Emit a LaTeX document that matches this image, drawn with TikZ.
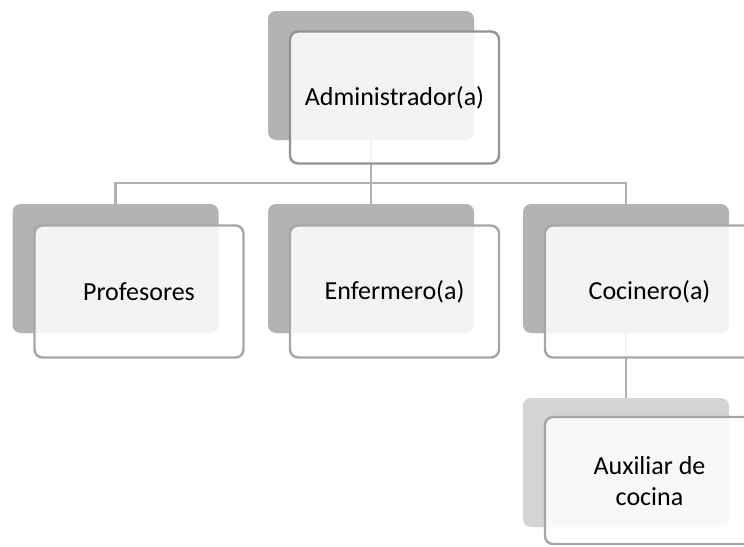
\documentclass[tikz,border=0pt]{standalone}
\usepackage{fontspec}
\setmainfont{Carlito}
\usetikzlibrary{positioning}
\definecolor{backgray}{HTML}{B3B3B3}
\definecolor{backlight}{HTML}{D4D4D4}
\definecolor{edgegray}{HTML}{A6A6A6}
\definecolor{linkgray}{HTML}{B0B0B0}

\begin{document}
\begin{tikzpicture}[x=0.5pt,y=-0.5pt,font=\fontsize{13}{15.5}\selectfont,
    backbox/.style={rectangle,rounded corners=4pt,fill=backgray,inner sep=0pt,
      minimum width=103pt,minimum height=64.5pt},
    frontbox/.style={rectangle,rounded corners=4pt,draw=edgegray,line width=1.2pt,
      fill=white,fill opacity=0.85,text opacity=1,inner sep=0pt,align=center,
      minimum width=104.5pt,minimum height=66pt},
    link/.style={draw=linkgray,line width=1.2pt}]
                \useasboundingbox (0,0) rectangle (744,546);
                \clip (0,0) rectangle (744,546);
                % back boxes
                \node[backbox] (admB) at (371,75.5) {};
                \node[backbox] (profB) at (115.5,268.5) {};
                \node[backbox] (enfB) at (371,268.5) {};
                \node[backbox] (cocB) at (626,268.5) {};
                \node[backbox,fill=backlight] (auxB) at (626,462.5) {};
                % connectors
                \coordinate (bus) at (371,183);
                \draw[link] (admB.south) -- (bus);
                \draw[link] (profB.north) |- (bus) -| (cocB.north);
                \draw[link] (bus) -- (enfB.north);
                \draw[link] (cocB.south) -- (auxB.north);
                % front boxes
                \node[frontbox,draw=gray!85] (adm) at (394.5,97.5) {Administrador(a)};
                \node[frontbox] (prof) at (139,291.5) {Profesores};
                \node[frontbox] (enf) at (394.5,291.5) {Enfermero(a)};
                \node[frontbox] (coc) at (649.5,291.5) {Cocinero(a)};
                \node[frontbox,minimum height=63.5pt] (aux) at (649.5,480.5) {\\[-6pt]Auxiliar de\\cocina};
            \end{tikzpicture}
\end{document}
